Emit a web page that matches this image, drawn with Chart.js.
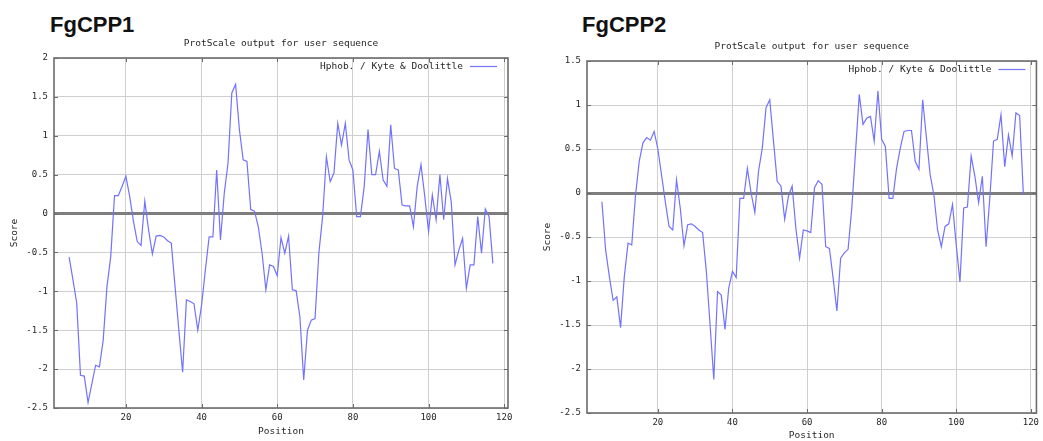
<!DOCTYPE html>
<html>
<head>
<meta charset="utf-8">
<script src="https://cdn.jsdelivr.net/npm/chart.js@4/dist/chart.umd.min.js"></script>
<style>
  html, body { margin: 0; padding: 0; background: #fff; }
  body { width: 1043px; height: 441px; position: relative; overflow: hidden; }
  .name { position: absolute; top: 14px; font: bold 22px "Liberation Sans", Arial, sans-serif; line-height: 22px; color: #111; }
  .panel { position: absolute; top: 0; height: 441px; }
  canvas { display: block; }
</style>
</head>
<body>
<div class="name" style="left:50px">FgCPP1</div>
<div class="name" style="left:582px">FgCPP2</div>
<div class="panel" style="left:0;width:520px"><canvas id="c1" width="520" height="441"></canvas></div>
<div class="panel" style="left:520px;width:523px"><canvas id="c2" width="523" height="441"></canvas></div>
<script>
// Kyte & Doolittle hydropathy profiles (window-averaged score per residue position)
const subtitle = 'ProtScale output for user sequence';
const seriesLabel = 'Hphob. / Kyte & Doolittle';
const xTitle = 'Position';
const yTitle = 'Score';

const xTicks = [20, 40, 60, 80, 100, 120];
const yTicks1 = [-2.5, -2, -1.5, -1, -0.5, 0, 0.5, 1, 1.5, 2];
const yTicks2 = [-2.5, -2, -1.5, -1, -0.5, 0, 0.5, 1, 1.5];

const positions1 = [
  5, 6, 7, 8, 9, 10, 11, 12, 13, 14, 15, 16, 17, 18, 19, 20, 21, 22, 23, 24,
  25, 26, 27, 28, 29, 30, 31, 32, 33, 34, 35, 36, 37, 38, 39, 40, 41, 42, 43, 44,
  45, 46, 47, 48, 49, 50, 51, 52, 53, 54, 55, 56, 57, 58, 59, 60, 61, 62, 63, 64,
  65, 66, 67, 68, 69, 70, 71, 72, 73, 74, 75, 76, 77, 78, 79, 80, 81, 82, 83, 84,
  85, 86, 87, 88, 89, 90, 91, 92, 93, 94, 95, 96, 97, 98, 99, 100, 101, 102, 103, 104,
  105, 106, 107, 108, 109, 110, 111, 112, 113, 114, 115, 116, 117
];
const scores1 = [
  -0.56, -0.85, -1.15, -2.08, -2.09, -2.43, -2.19, -1.95, -1.97, -1.63, -0.94, -0.55, 0.23, 0.23, 0.35, 0.48, 0.22, -0.10, -0.36, -0.41,
  0.16, -0.21, -0.52, -0.29, -0.28, -0.30, -0.35, -0.38, -0.94, -1.50, -2.04, -1.11, -1.13, -1.16, -1.50, -1.18, -0.73, -0.30, -0.30, 0.56,
  -0.34, 0.26, 0.65, 1.55, 1.66, 1.08, 0.69, 0.67, 0.05, 0.03, -0.17, -0.51, -0.98, -0.66, -0.68, -0.80, -0.31, -0.51, -0.29, -0.98,
  -0.99, -1.33, -2.14, -1.50, -1.37, -1.35, -0.51, -0.04, 0.73, 0.41, 0.52, 1.16, 0.88, 1.16, 0.69, 0.56, -0.04, -0.04, 0.35, 1.08,
  0.50, 0.50, 0.80, 0.43, 0.35, 1.14, 0.58, 0.56, 0.11, 0.10, 0.10, -0.17, 0.35, 0.63, 0.22, -0.23, 0.24, -0.08, 0.50, -0.08,
  0.45, 0.15, -0.66, -0.47, -0.32, -0.96, -0.66, -0.66, -0.04, -0.51, 0.06, -0.04, -0.64
];

const positions2 = [
  5, 6, 7, 8, 9, 10, 11, 12, 13, 14, 15, 16, 17, 18, 19, 20, 21, 22, 23, 24,
  25, 26, 27, 28, 29, 30, 31, 32, 33, 34, 35, 36, 37, 38, 39, 40, 41, 42, 43, 44,
  45, 46, 47, 48, 49, 50, 51, 52, 53, 54, 55, 56, 57, 58, 59, 60, 61, 62, 63, 64,
  65, 66, 67, 68, 69, 70, 71, 72, 73, 74, 75, 76, 77, 78, 79, 80, 81, 82, 83, 84,
  85, 86, 87, 88, 89, 90, 91, 92, 93, 94, 95, 96, 97, 98, 99, 100, 101, 102, 103, 104,
  105, 106, 107, 108, 109, 110, 111, 112, 113, 114, 115, 116, 117, 118
];
const scores2 = [
  -0.10, -0.65, -0.95, -1.22, -1.18, -1.53, -0.95, -0.57, -0.59, -0.03, 0.36, 0.57, 0.63, 0.60, 0.70, 0.50, 0.20, -0.10, -0.38, -0.42,
  0.15, -0.17, -0.60, -0.36, -0.35, -0.38, -0.42, -0.45, -0.89, -1.50, -2.12, -1.12, -1.16, -1.55, -1.08, -0.89, -0.96, -0.06, -0.06, 0.28,
  0.00, -0.22, 0.25, 0.51, 0.97, 1.06, 0.59, 0.13, 0.08, -0.30, -0.04, 0.08, -0.40, -0.74, -0.42, -0.43, -0.45, 0.06, 0.14, 0.10,
  -0.61, -0.63, -0.97, -1.34, -0.74, -0.68, -0.64, -0.17, 0.47, 1.12, 0.78, 0.85, 0.87, 0.59, 1.16, 0.61, 0.53, -0.06, -0.06, 0.28,
  0.51, 0.70, 0.71, 0.71, 0.36, 0.27, 1.06, 0.63, 0.21, -0.02, -0.42, -0.61, -0.38, -0.35, -0.13, -0.59, -1.01, -0.17, -0.16, 0.42,
  0.19, -0.11, 0.19, -0.61, -0.06, 0.59, 0.61, 0.89, 0.30, 0.66, 0.42, 0.91, 0.88, -0.02
];

const MONO = '"DejaVu Sans Mono", "Liberation Mono", monospace';
const INK = '#262626';
const FRAME = '#6c6c6c';
const GRID = '#cfcfcf';
const ZERO = '#7e7e7e';
const LINE = '#7272ff';

// Box border, inward mirrored ticks, subtitle and in-plot key
const framePlugin = {
  id: 'gnuplotFrame',
  afterDraw(chart, args, opts) {
    const { ctx, chartArea: a, scales: { x, y } } = chart;
    ctx.save();
    ctx.strokeStyle = FRAME;
    ctx.lineWidth = 1;
    ctx.beginPath();
    x.ticks.forEach(t => {
      const px = Math.round(x.getPixelForValue(t.value)) + 0.5;
      ctx.moveTo(px, a.top); ctx.lineTo(px, a.top + 4);
      ctx.moveTo(px, a.bottom); ctx.lineTo(px, a.bottom - 4);
    });
    y.ticks.forEach(t => {
      const py = Math.round(y.getPixelForValue(t.value)) + 0.5;
      ctx.moveTo(a.left, py); ctx.lineTo(a.left + 4, py);
      ctx.moveTo(a.right, py); ctx.lineTo(a.right - 4, py);
    });
    ctx.stroke();
    ctx.lineWidth = 1.6;
    ctx.strokeRect(a.left, a.top, a.right - a.left, a.bottom - a.top);

    ctx.fillStyle = INK;
    ctx.font = '9.5px ' + MONO;
    ctx.textBaseline = 'middle';
    ctx.textAlign = 'center';
    ctx.fillText(opts.text, (a.left + a.right) / 2, a.top - 14);

    const ds = chart.data.datasets[0];
    const ky = a.top + 8.5;
    ctx.textAlign = 'right';
    ctx.fillText(ds.label, a.right - 45, ky);
    ctx.strokeStyle = ds.borderColor;
    ctx.lineWidth = 1.2;
    ctx.beginPath();
    ctx.moveTo(a.right - 38, ky);
    ctx.lineTo(a.right - 11, ky);
    ctx.stroke();
    ctx.restore();
  }
};

function makeChart(id, positions, scores, yTicks, frame) {
  return new Chart(document.getElementById(id), {
    type: 'line',
    data: {
      datasets: [{
        label: seriesLabel,
        data: positions.map((p, i) => ({ x: p, y: scores[i] })),
        borderColor: LINE,
        borderWidth: 1.2,
        pointRadius: 0,
        tension: 0,
        fill: false
      }]
    },
    options: {
      responsive: false,
      animation: false,
      events: [],
      layout: { padding: { top: frame.top, right: frame.right, bottom: 0, left: 0 } },
      plugins: {
        legend: { display: false },
        tooltip: { enabled: false },
        title: { display: false },
        gnuplotFrame: { text: subtitle }
      },
      scales: {
        x: {
          type: 'linear',
          min: 1,
          max: frame.xMax,
          afterBuildTicks: s => { s.ticks = xTicks.map(v => ({ value: v })); },
          afterFit: s => { s.height = frame.xAxisH; },
          ticks: { font: { family: MONO, size: 9 }, color: INK, padding: 4, maxRotation: 0, autoSkip: false, callback: v => String(v) },
          grid: { color: GRID, lineWidth: 1, drawTicks: false },
          border: { display: false },
          title: { display: true, text: xTitle, color: INK, font: { family: MONO, size: 9.5, lineHeight: 1 }, padding: { top: 0, bottom: frame.xTitlePad } }
        },
        y: {
          type: 'linear',
          min: yTicks[0],
          max: yTicks[yTicks.length - 1],
          afterBuildTicks: s => { s.ticks = yTicks.map(v => ({ value: v })); },
          afterFit: s => { s.width = frame.yAxisW; },
          ticks: { font: { family: MONO, size: 9 }, color: INK, padding: 6, callback: v => String(v) },
          grid: {
            color: c => (c.tick && c.tick.value === 0 ? ZERO : GRID),
            lineWidth: c => (c.tick && c.tick.value === 0 ? 3 : 1),
            drawTicks: false
          },
          border: { display: false },
          title: { display: true, text: yTitle, color: INK, font: { family: MONO, size: 9.5, lineHeight: 1 }, padding: { top: frame.yTitlePad, bottom: 0 } }
        }
      }
    },
    plugins: [framePlugin]
  });
}

makeChart('c1', positions1, scores1, yTicks1,
  { top: 58, right: 12, xMax: 121, xAxisH: 33, yAxisW: 54, xTitlePad: 4.25, yTitlePad: 10.25 });
makeChart('c2', positions2, scores2, yTicks2,
  { top: 61, right: 3, xMax: 121.5, xAxisH: 28, yAxisW: 67, xTitlePad: 0.25, yTitlePad: 23.25 });
</script>
</body>
</html>
